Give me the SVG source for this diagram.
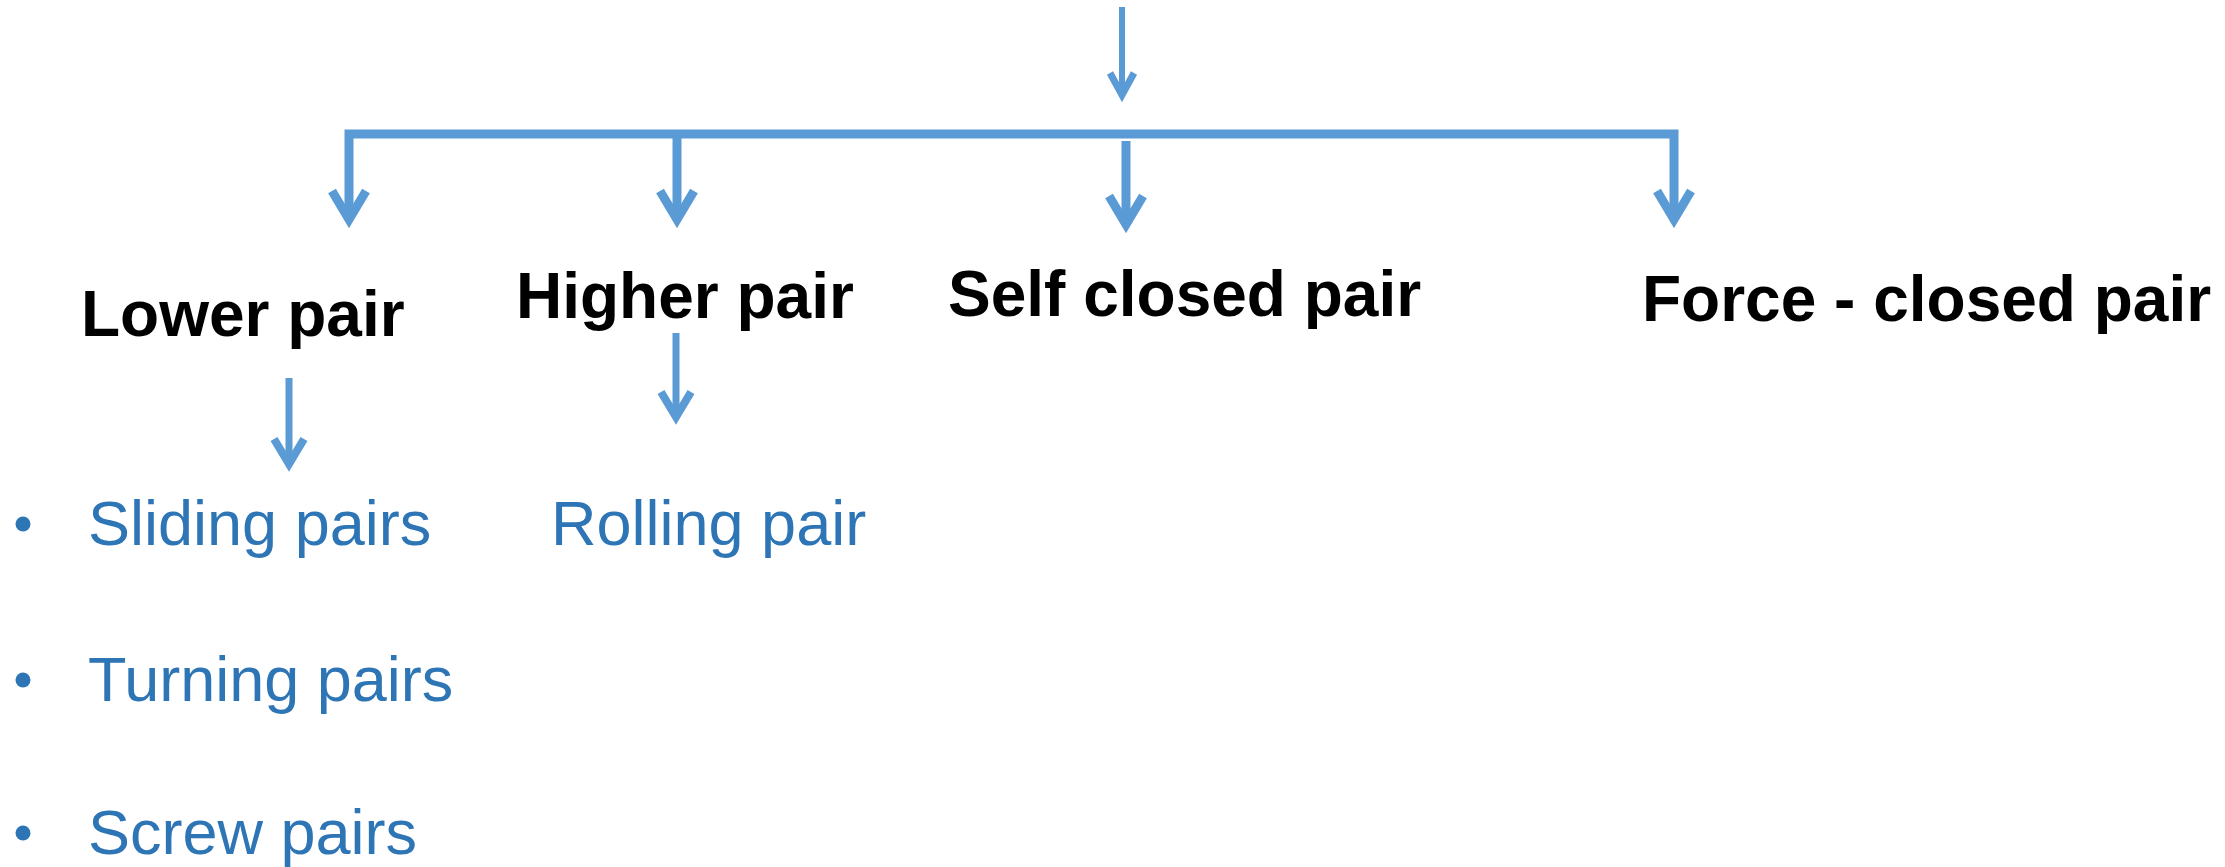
<svg xmlns="http://www.w3.org/2000/svg" xmlns:xlink="http://www.w3.org/1999/xlink" width="2225" height="867" viewBox="0 0 2225 867">
  <style>
    .conn { fill: none; stroke: #5B9BD5; stroke-linejoin: miter; stroke-miterlimit: 10; }
    .w5 { stroke-width: 6; }
    .w8 { stroke-width: 9; }
    .w65 { stroke-width: 7; }
    .hw5 { stroke-width: 7; }
    .hw65 { stroke-width: 8; }
    .head { font-family: "Liberation Sans", Arial, sans-serif; font-weight: bold; font-size: 64px; fill: #000000; }
    .item { font-family: "Liberation Sans", Arial, sans-serif; font-size: 63px; fill: #2E75B6; }
    .bullet { fill: #2E75B6; }
  </style>
  <defs>
    <path id="hd5" d="M -12 -29 L 0 -7 L 12 -29"/>
    <path id="hd8" d="M -17 -37 L 0 -8.5 L 17 -37"/>
    <path id="hd65" d="M -15 -33 L 0 -8 L 15 -33"/>
  </defs>
  <rect width="2225" height="867" fill="#FFFFFF"/>

  <g id="connectors">
    <!-- top incoming arrow -->
    <line class="conn w5" x1="1122" y1="7" x2="1122" y2="93"/>
    <use href="#hd5" class="conn hw5" transform="translate(1122,102)"/>
    <!-- bar with left and right drops -->
    <path class="conn w8" d="M 349 216 L 349 134 L 1674 134 L 1674 216"/>
    <use href="#hd8" class="conn w8" transform="translate(349,228)"/>
    <use href="#hd8" class="conn w8" transform="translate(1674,228)"/>
    <!-- drop to Higher pair -->
    <line class="conn w8" x1="677" y1="134" x2="677" y2="216"/>
    <use href="#hd8" class="conn w8" transform="translate(677,228)"/>
    <!-- drop to Self closed pair -->
    <line class="conn w8" x1="1126" y1="141" x2="1126" y2="221"/>
    <use href="#hd8" class="conn w8" transform="translate(1126,233)"/>
    <!-- Lower pair to list -->
    <line class="conn w65" x1="289" y1="378" x2="289" y2="461"/>
    <use href="#hd65" class="conn hw65" transform="translate(289,472)"/>
    <!-- Higher pair to Rolling pair -->
    <line class="conn w65" x1="676" y1="333" x2="676" y2="414"/>
    <use href="#hd65" class="conn hw65" transform="translate(676,425)"/>
  </g>

  <g id="lower-pair"><text class="head" x="81" y="336">Lower pair</text></g>
  <g id="higher-pair"><text class="head" x="516" y="318">Higher pair</text></g>
  <g id="self-closed-pair"><text class="head" x="948" y="316">Self closed pair</text></g>
  <g id="force-closed-pair"><text class="head" x="1642" y="321">Force - closed pair</text></g>

  <g id="lower-pair-types">
    <circle class="bullet" cx="23" cy="524" r="7.5"/>
    <text class="item" x="88" y="545">Sliding pairs</text>
    <circle class="bullet" cx="23" cy="680" r="7.5"/>
    <text class="item" x="88" y="701">Turning pairs</text>
    <circle class="bullet" cx="23" cy="833" r="7.5"/>
    <text class="item" x="88" y="854">Screw pairs</text>
  </g>
  <g id="rolling-pair"><text class="item" x="551" y="545">Rolling pair</text></g>
</svg>
